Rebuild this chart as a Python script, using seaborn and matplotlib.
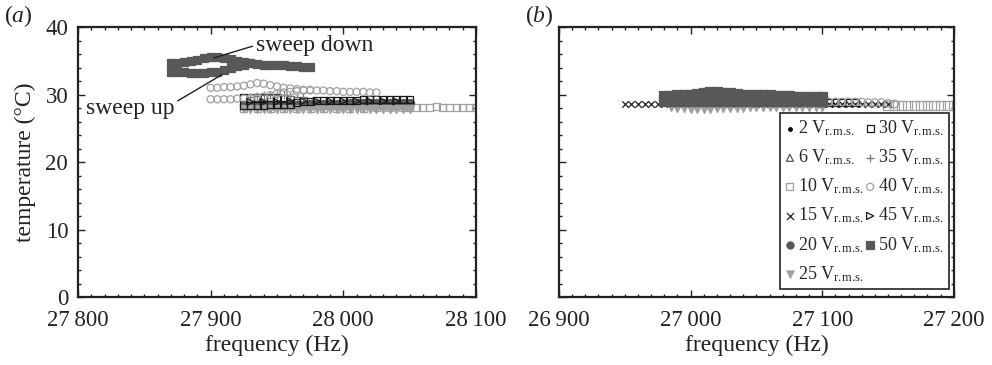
import numpy as np
import pandas as pd
import seaborn as sns
import matplotlib.pyplot as plt
from matplotlib.ticker import MultipleLocator, FuncFormatter

# ---- panel (a) data: frequency (Hz) / temperature (degC) ----
a50_down_f = [27975, 27970, 27965, 27960, 27955, 27950, 27945, 27940, 27935, 27930, 27925,
              27920, 27915, 27910, 27905, 27900, 27895, 27890, 27885, 27880, 27875, 27870]
a50_down_t = [34.1, 34.1, 34.2, 34.2, 34.3, 34.3, 34.4, 34.4, 34.5, 34.6, 34.8,
              35.0, 35.2, 35.4, 35.6, 35.6, 35.4, 35.1, 34.9, 34.8, 34.7, 34.7]
a50_up_f = [27870, 27875, 27880, 27885, 27890, 27895, 27900, 27905, 27910, 27915, 27920, 27925, 27930]
a50_up_t = [33.3, 33.3, 33.3, 33.2, 33.2, 33.2, 33.3, 33.4, 33.6, 33.9, 34.2, 34.4, 34.6]

a40_down_f = [28025, 28020, 28015, 28010, 28005, 28000, 27995, 27990, 27985, 27980, 27975, 27970, 27965,
              27960, 27955, 27950, 27945, 27940, 27935, 27930, 27925, 27920, 27915, 27910, 27905, 27900]
a40_down_t = [30.3, 30.3, 30.4, 30.4, 30.4, 30.4, 30.5, 30.5, 30.6, 30.6, 30.7, 30.7, 30.8,
              30.9, 31.0, 31.2, 31.4, 31.6, 31.7, 31.5, 31.3, 31.2, 31.1, 31.1, 31.0, 31.0]
a40_up_f = [27900, 27905, 27910, 27915, 27920, 27925, 27930, 27935, 27940, 27945, 27950, 27955,
            27960, 27965, 27970, 27975]
a40_up_t = [29.3, 29.3, 29.3, 29.3, 29.4, 29.4, 29.5, 29.6, 29.7, 29.9, 30.1, 30.3,
            30.4, 30.5, 30.6, 30.6]

a30_f = [27925, 27930, 27935, 27940, 27945, 27950, 27955, 27960, 27965, 27970, 27975, 27980, 27985,
         27990, 27995, 28000, 28005, 28010, 28015, 28020, 28025, 28030, 28035, 28040, 28045, 28050,
         27925, 27930, 27935, 27940, 27945, 27950, 27955, 27960]
a30_t = [28.4, 28.4, 28.4, 28.4, 28.5, 28.5, 28.5, 28.6, 28.8, 29.0, 29.0, 29.1, 29.1,
         29.1, 29.1, 29.1, 29.1, 29.1, 29.2, 29.2, 29.2, 29.2, 29.2, 29.2, 29.2, 29.2,
         29.6, 29.6, 29.6, 29.5, 29.5, 29.5, 29.4, 29.3]

a_low_f = [27925, 27930, 27935, 27940, 27945, 27950, 27955, 27960, 27965, 27970, 27975, 27980, 27985,
           27990, 27995, 28000, 28005, 28010, 28015, 28020, 28025, 28030, 28035, 28040, 28045, 28050]
a20_t = [28.4, 28.4, 28.4, 28.4, 28.4, 28.4, 28.4, 28.5, 28.5, 28.5, 28.6, 28.6, 28.6,
         28.6, 28.6, 28.6, 28.7, 28.7, 28.7, 28.7, 28.7, 28.7, 28.7, 28.7, 28.7, 28.7]
a25_t = [27.8, 27.8, 27.8, 27.8, 27.8, 27.8, 27.8, 27.8, 27.9, 27.9, 27.9, 27.9, 27.9,
         27.9, 27.9, 27.9, 27.9, 27.9, 27.9, 27.9, 27.9, 27.9, 27.9, 27.9, 27.9, 27.9]

a_sparse_f = [27925, 27935, 27945, 27955, 27965, 27975, 27985, 27995, 28005, 28015, 28025, 28035, 28045]
a2_t = [28.2, 28.2, 28.2, 28.2, 28.3, 28.3, 28.3, 28.3, 28.3, 28.3, 28.3, 28.3, 28.3]
a6_t = [28.3, 28.3, 28.3, 28.3, 28.4, 28.4, 28.4, 28.4, 28.4, 28.4, 28.4, 28.4, 28.4]

a10_f = [27925, 27935, 27945, 27955, 27965, 27975, 27985, 27995, 28005, 28015, 28025, 28035, 28045,
         28050, 28055, 28060, 28065, 28070, 28075, 28080, 28085, 28090, 28095, 28100]
a10_t = [27.9, 27.9, 27.9, 28.0, 28.0, 28.0, 28.0, 28.0, 28.0, 28.0, 28.1, 28.1, 28.1,
         28.1, 28.1, 28.1, 28.1, 28.2, 28.1, 28.1, 28.1, 28.1, 28.1, 28.1]

a35_f = [27930, 27935, 27940, 27945, 27950, 27955, 27960, 27965, 27970]
a35_t = [29.7, 29.8, 29.9, 30.0, 30.0, 29.9, 29.8, 29.7, 29.6]
a45_f = [27930, 27940, 27950, 27960, 27970, 27980, 27990, 28000, 28010, 28020, 28030, 28040]
a45_t = [28.9, 28.9, 28.9, 29.0, 29.0, 29.0, 29.0, 29.0, 29.0, 29.0, 29.0, 29.0]

# ---- panel (b) data ----
b50_f = [26980, 26985, 26990, 26995, 27000, 27005, 27010, 27015, 27020, 27025, 27030, 27035, 27040,
         27045, 27050, 27055, 27060, 27065, 27070, 27075, 27080, 27085, 27090, 27095, 27100]
b50_down_t = [29.8, 29.8, 29.9, 29.9, 30.0, 30.1, 30.3, 30.4, 30.4, 30.3, 30.2, 30.1, 30.0,
              30.0, 29.9, 29.9, 29.9, 29.8, 29.8, 29.8, 29.7, 29.7, 29.7, 29.6, 29.6]
b50_up_t = [29.0, 29.0, 29.0, 29.0, 29.0, 29.0, 29.1, 29.1, 29.1, 29.1, 29.0, 29.0, 29.0,
            29.0, 29.0, 29.0, 29.0, 29.0, 29.0, 29.0, 29.0, 29.0, 29.0, 29.0, 29.0]

b15_f = [26950, 26955, 26960, 26965, 26970, 26975, 26980, 26990, 27000, 27010, 27020, 27030, 27040,
         27050, 27060, 27070, 27080, 27090, 27100, 27105, 27110, 27115, 27120, 27125, 27130,
         27135, 27140, 27145, 27150]
b15_t = [28.6, 28.6, 28.6, 28.6, 28.6, 28.6, 28.6, 28.6, 28.6, 28.6, 28.6, 28.6, 28.6,
         28.6, 28.6, 28.6, 28.6, 28.6, 28.6, 28.6, 28.6, 28.6, 28.6, 28.6, 28.6,
         28.6, 28.6, 28.6, 28.6]

b25_f = [26985, 26990, 26995, 27000, 27005, 27010, 27015, 27020, 27025, 27030, 27035, 27040, 27045,
         27050, 27055, 27060, 27065, 27070, 27075, 27080, 27085, 27090, 27095, 27100]
b25_t = [28.1, 28.0, 28.0, 27.9, 27.9, 27.9, 27.9, 28.0, 28.0, 28.0, 28.0, 28.0, 28.1,
         28.1, 28.1, 28.1, 28.1, 28.2, 28.2, 28.2, 28.2, 28.2, 28.2, 28.2]

b30_f = [27100, 27105, 27110, 27115, 27120, 27125]
b30_t = [28.8, 28.8, 28.8, 28.8, 28.8, 28.8]
b40_f = [27105, 27110, 27115, 27120, 27125, 27130, 27135, 27140, 27145, 27150, 27155]
b40_t = [28.9, 28.9, 28.9, 28.9, 28.9, 28.9, 28.8, 28.8, 28.8, 28.7, 28.6]
b10_f = [27150, 27155, 27160, 27165, 27170, 27175, 27180, 27185, 27190, 27195, 27200]
b10_t = [28.4, 28.4, 28.4, 28.4, 28.4, 28.4, 28.4, 28.4, 28.4, 28.4, 28.4]
b_mid_f = [27000, 27010, 27020, 27030, 27040, 27050, 27060, 27070, 27080, 27090]
b20_t = [28.9, 28.9, 28.9, 28.9, 29.0, 29.0, 29.0, 29.0, 29.0, 29.0]
b2_t = [28.7, 28.7, 28.7, 28.7, 28.7, 28.7, 28.7, 28.7, 28.7, 28.7]
b6_t = [28.8, 28.8, 28.8, 28.8, 28.8, 28.8, 28.8, 28.8, 28.8, 28.8]
b35_t = [29.0, 29.0, 29.0, 29.0, 29.1, 29.1, 29.1, 29.1, 29.1, 29.1]
b45_f = [27030, 27040, 27050, 27060, 27070, 27080, 27090, 27100]
b45_t = [29.0, 29.3, 29.4, 29.4, 29.3, 29.2, 29.2, 29.1]

voltages = [2, 6, 10, 15, 20, 25, 30, 35, 40, 45, 50]

DARK = '#585858'
LIGHT = '#a0a0a0'
# marker, colour, filled, size in (a), size in (b)
styles = {
    2: ('.', 'black', True, 10, 10),
    6: ('^', DARK, False, 26, 26),
    10: ('s', LIGHT, False, 26, 45),
    15: ('x', '#222222', None, 22, 22),
    20: ('o', DARK, True, 34, 34),
    25: ('v', LIGHT, True, 34, 34),
    30: ('s', '#1a1a1a', False, 26, 30),
    35: ('+', '#777777', None, 26, 26),
    40: ('o', LIGHT, False, 26, 30),
    45: ('>', '#1a1a1a', False, 26, 26),
    50: ('s', DARK, True, 30, 52),
}

series_a = {
    2: (a_sparse_f, a2_t),
    6: (a_sparse_f, a6_t),
    10: (a10_f, a10_t),
    20: (a_low_f, a20_t),
    25: (a_low_f, a25_t),
    30: (a30_f, a30_t),
    35: (a35_f, a35_t),
    40: (a40_down_f + a40_up_f, a40_down_t + a40_up_t),
    45: (a45_f, a45_t),
    50: (a50_down_f + a50_up_f, a50_down_t + a50_up_t),
}
series_b = {
    2: (b_mid_f, b2_t),
    6: (b_mid_f, b6_t),
    10: (b10_f, b10_t),
    15: (b15_f, b15_t),
    20: (b_mid_f, b20_t),
    25: (b25_f, b25_t),
    30: (b30_f, b30_t),
    35: (b_mid_f, b35_t),
    40: (b40_f, b40_t),
    45: (b45_f, b45_t),
    50: (b50_f + b50_f, b50_down_t + b50_up_t),
}

sns.set_theme(style='ticks')
plt.rcParams['font.family'] = ['Liberation Serif', 'DejaVu Serif']
plt.rcParams['mathtext.fontset'] = 'custom'
plt.rcParams['mathtext.rm'] = 'Liberation Serif'
plt.rcParams['mathtext.it'] = 'Liberation Serif:italic'


def draw(ax, series, col):
    for v in voltages:
        if v not in series:
            continue
        f, t = series[v]
        m, c, filled = styles[v][:3]
        s = styles[v][col]
        df = pd.DataFrame({'frequency': f, 'temperature': t})
        kw = dict(marker=m, s=s, color=c, linewidth=0.9)
        if filled is True:
            kw['edgecolor'] = c
        elif filled is False:
            kw['facecolor'] = 'none'
            kw['edgecolor'] = c
        # periods in mathtext get padded, pull them back together
        sub = 'r.\\!m.\\!s.'
        sns.scatterplot(data=df, x='frequency', y='temperature', ax=ax,
                        label=f'{v} V$_{{\\mathrm{{{sub}}}}}$', legend=False, **kw)


fig = plt.figure(figsize=(9.92, 3.65), dpi=100)
ax_a = fig.add_axes([0.0786, 0.186, 0.4012, 0.740])
ax_b = fig.add_axes([0.5635, 0.186, 0.398, 0.740])

draw(ax_a, series_a, 3)
draw(ax_b, series_b, 4)

fmt = FuncFormatter(lambda v, p: f'{int(v):,}'.replace(',', '\u2009'))
for ax, lo in [(ax_a, 27800), (ax_b, 26900)]:
    ax.set_xlim(lo, lo + 300)
    ax.set_ylim(0, 40)
    ax.xaxis.set_major_locator(MultipleLocator(100))
    ax.xaxis.set_minor_locator(MultipleLocator(10))
    ax.yaxis.set_major_locator(MultipleLocator(10))
    ax.yaxis.set_minor_locator(MultipleLocator(2))
    ax.xaxis.set_major_formatter(fmt)
    ax.tick_params(which='both', direction='in', top=True, right=True,
                   colors='#222222', labelcolor='#222222', width=1)
    ax.tick_params(which='major', length=5, labelsize=16.5, pad=7)
    ax.tick_params(axis='x', which='major', pad=9)
    ax.tick_params(which='minor', length=2.5)
    for sp in ax.spines.values():
        sp.set_linewidth(1.6)
        sp.set_color('#222222')
    ax.set_xlabel('frequency (Hz)', fontsize=17, color='#222222', labelpad=3)

ax_a.set_ylabel('temperature (°C)', fontsize=17, color='#222222', labelpad=7)
ax_b.set_ylabel('')
ax_b.tick_params(labelleft=False)

# annotations for the 50 V sweep branches
ax_a.annotate('sweep down', xy=(27902, 35.4), xytext=(27934, 37.3), fontsize=17, color='#222222',
              ha='left', va='center',
              arrowprops=dict(arrowstyle='-', color='#222222', lw=1, shrinkA=0, shrinkB=0,
                              relpos=(0, 0.5)))
ax_a.annotate('sweep up', xy=(27909, 33.0), xytext=(27806, 28.0), fontsize=17, color='#222222',
              ha='left', va='center',
              arrowprops=dict(arrowstyle='-', color='#222222', lw=1, shrinkA=0, shrinkB=0,
                              relpos=(1.0, 0.75)))

fig.text(0.004, 0.955, '($\\mathit{a}$)', fontsize=17, color='#222222', va='center')
fig.text(0.529, 0.955, '($\\mathit{b}$)', fontsize=17, color='#222222', va='center')

handles, labels = ax_b.get_legend_handles_labels()
leg = ax_b.legend(handles, labels, ncol=2, loc='lower right', bbox_to_anchor=(0.988, 0.03),
                  fontsize=13, frameon=True, fancybox=False, edgecolor='#222222',
                  framealpha=1, handlelength=0.45, handletextpad=0.2, columnspacing=0.15,
                  labelspacing=0.52, borderpad=0.3, borderaxespad=0, scatterpoints=1)
leg.get_frame().set_linewidth(1.2)
for h in leg.legend_handles:
    h.set_sizes([26])

fig.savefig('out.png', dpi=100)
